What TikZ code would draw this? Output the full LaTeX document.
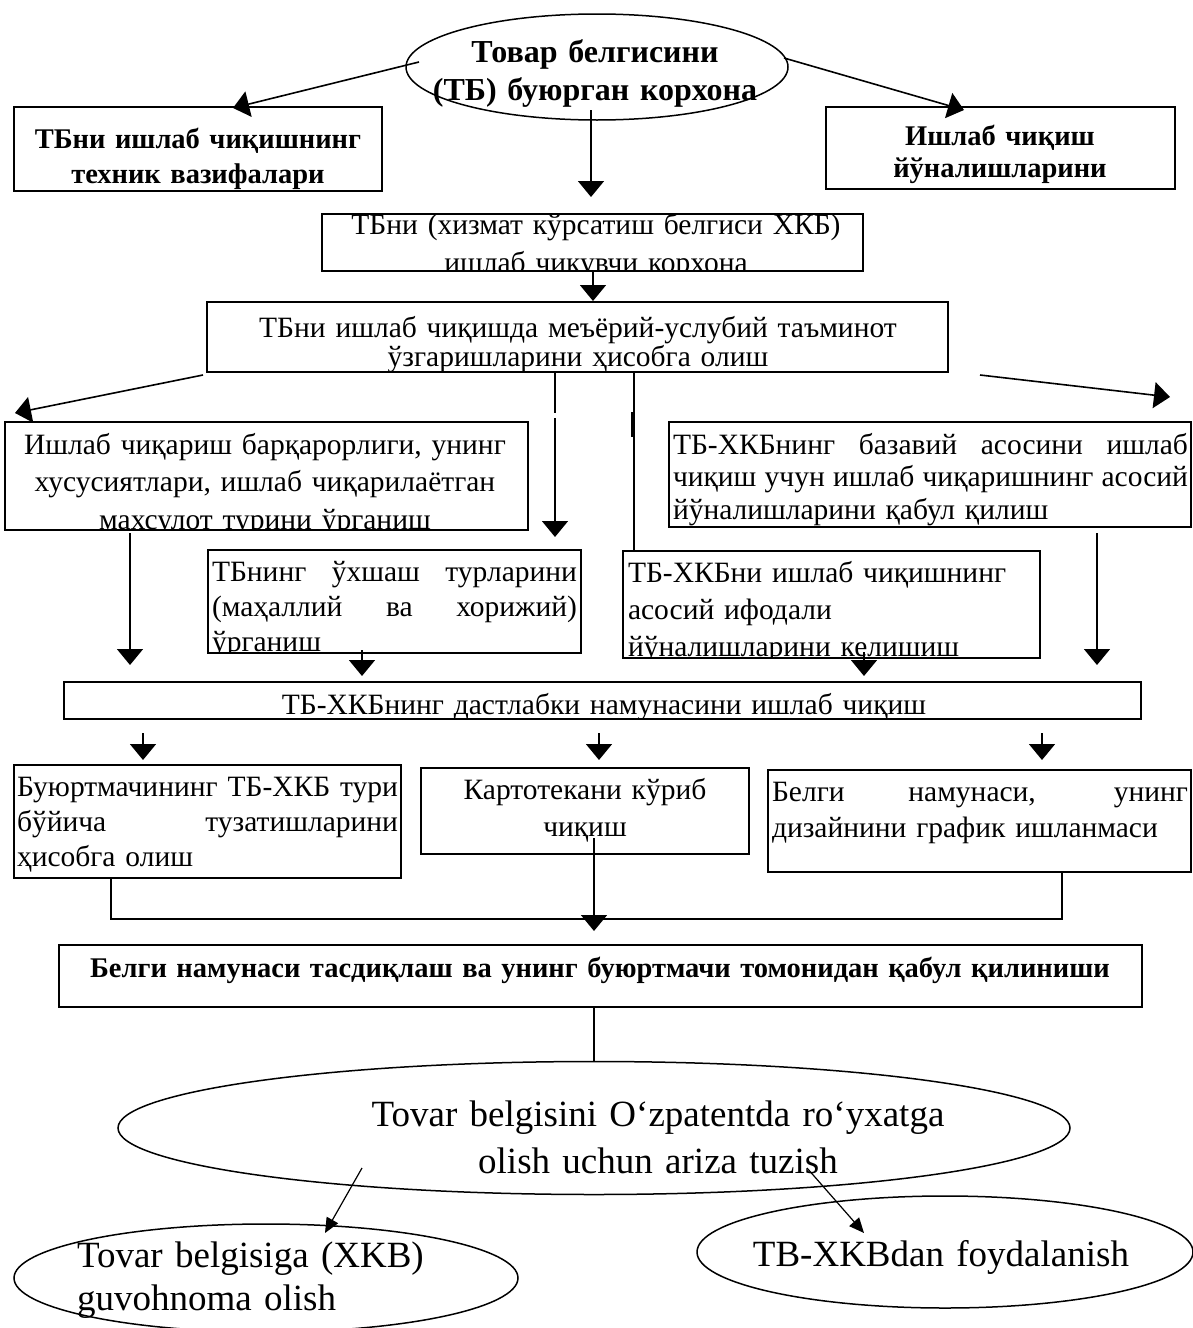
\documentclass[tikz,border=0pt]{standalone}
\usepackage{fontspec}
\setmainfont{Liberation Serif}
\usetikzlibrary{arrows.meta,shapes.geometric}
\newcommand{\jl}[2]{\makebox[#1][s]{\spaceskip=0.25em plus 1fil minus 0.15em\relax #2}}
\tikzset{
  box/.style={draw, line width=1.8pt, inner sep=0pt},
  ell/.style={draw, ellipse, line width=1.5pt, inner sep=0pt},
  rt/.style={inner sep=0pt, anchor=base, font=\fontsize{29.5}{#1}\selectfont},
  bt/.style={inner sep=0pt, anchor=base, font=\fontsize{28.5}{#1}\selectfont\bfseries},
  bte/.style={inner sep=0pt, anchor=base, font=\fontsize{32}{#1}\selectfont\bfseries},
  lt/.style={inner sep=0pt, anchor=base, font=\fontsize{37}{#1}\selectfont},
  arr/.style={line width=1.6pt, -{Triangle[width=26pt,length=16pt]}},
  arrs/.style={line width=1.2pt, -{Triangle[width=13pt,length=15pt]}},
  ln/.style={line width=1.6pt}
}
\begin{document}
\begin{tikzpicture}[x=1pt,y=-1pt]
\fill[white] (0,0) rectangle (1192,1328);
\useasboundingbox (0,0) rectangle (1192,1328);

% ---------- top ellipse and first boxes ----------
\node[ell, minimum width=382pt, minimum height=106pt] (e1) at (597,67) {};
\node[bte=38, text width=420pt, align=center] (te1) at (595,62) {Товар белгисини\\(ТБ) буюрган корхона};

\node[box, minimum width=368pt, minimum height=84pt] (b1) at (198,149) {};
\node[bt=35, text width=366pt, align=center] (t1) at (198,148) {ТБни ишлаб чиқишнинг\\техник вазифалари};

\node[box, minimum width=349pt, minimum height=82pt] (bR) at (1000.5,148) {};
\node[bt=32, text width=345pt, align=center] (tR) at (1000,145) {Ишлаб чиқиш\\йўналишларини};

\node[box, minimum width=541pt, minimum height=57pt] (b2) at (592.5,242.5) {};
\begin{scope}
\clip (b2.south west) rectangle (b2.north east);
\node[rt=38, text width=540pt, align=center] (t2) at (596,234) {ТБни (хизмат кўрсатиш белгиси ХКБ)\\ишлаб чикувчи корхона};
\end{scope}

\node[box, minimum width=741pt, minimum height=70pt] (b3) at (577.5,337) {};
\node[rt=29, text width=740pt, align=center] (t3) at (578,337) {ТБни ишлаб чиқишда меъёрий-услубий таъминот\\ўзгаришларини ҳисобга олиш};

% ---------- second level ----------
\node[box, minimum width=523pt, minimum height=108pt] (b4) at (266.5,476) {};
\begin{scope}
\clip (b4.south west) rectangle (b4.north east);
\node[rt=37.5, text width=520pt, align=center] (t4) at (265,454) {Ишлаб чиқариш барқарорлиги, унинг\\хусусиятлари, ишлаб чиқарилаётган\\махсулот турини ўрганиш};
\end{scope}

\node[box, minimum width=522pt, minimum height=105pt] (b5) at (930,474.5) {};
\node[rt=32.5, text width=515pt, align=left] (t5) at (930.5,454) {\jl{515pt}{ТБ-ХКБнинг базавий асосини ишлаб}\\\jl{515pt}{чиқиш учун ишлаб чиқаришнинг асосий}\\йўналишларини қабул қилиш};

\node[box, minimum width=373pt, minimum height=103pt] (b6) at (394.5,601.5) {};
\begin{scope}
\clip (b6.south west) rectangle (b6.north east);
\node[rt=35, text width=365pt, align=left] (t6) at (394.5,581) {\jl{365pt}{ТБнинг ўхшаш турларини}\\\jl{365pt}{(маҳаллий ва хорижий)}\\ўрганиш};
\end{scope}

\node[box, minimum width=417pt, minimum height=107pt] (b7) at (831.5,604.5) {};
\begin{scope}
\clip (b7.south west) rectangle (b7.north east);
\node[rt=37, text width=410pt, align=left] (t7) at (833,582) {ТБ-ХКБни ишлаб чиқишнинг\\асосий ифодали\\йўналишларини келишиш};
\end{scope}

\node[box, minimum width=1077pt, minimum height=37pt] (b8) at (602.5,700.5) {};
\begin{scope}
\clip (b8.south west) rectangle (b8.north east);
\node[rt=36, text width=1000pt, align=center] (t8) at (604,714) {ТБ-ХКБнинг дастлабки намунасини ишлаб чиқиш};
\end{scope}

% ---------- third level ----------
\node[box, minimum width=387pt, minimum height=113pt] (b9) at (207.5,821.5) {};
\node[rt=35, text width=381pt, align=left] (t9) at (207.5,796) {\jl{381pt}{Буюртмачининг ТБ-ХКБ тури}\\\jl{381pt}{бўйича тузатишларини}\\ҳисобга олиш};

\node[box, minimum width=328pt, minimum height=86pt] (b10) at (585,811) {};
\node[rt=37, text width=320pt, align=center] (t10) at (585,799) {Картотекани кўриб\\чиқиш};

\node[box, minimum width=423pt, minimum height=102pt] (b11) at (979.5,821) {};
\node[rt=36, text width=416pt, align=left] (t11) at (980,801) {\jl{416pt}{Белги намунаси, унинг}\\дизайнини график ишланмаси};

\node[box, minimum width=1083pt, minimum height=62pt] (bb) at (600.5,976) {};
\node[bt=36, text width=1080pt, align=center] (tbb) at (600,977) {Белги намунаси тасдиқлаш ва унинг буюртмачи томонидан қабул қилиниши};

% ---------- bottom ellipses ----------
\node[ell, minimum width=952pt, minimum height=133pt] (e2) at (594,1128) {};
\node[lt=47, text width=800pt, align=center] (te2) at (658,1126) {Tovar belgisini O‘zpatentda ro‘yxatga\\olish uchun ariza tuzish};

\node[ell, minimum width=504pt, minimum height=108pt] (e3) at (266,1278) {};
\node[lt=43, text width=420pt, align=left] (te3) at (287,1267) {Tovar belgisiga (XKB)\\guvohnoma olish};

\node[ell, minimum width=496pt, minimum height=112pt] (e4) at (945,1252) {};
\node[lt=43, text width=480pt, align=center] (te4) at (941,1266) {TB-XKBdan foydalanish};

% ---------- connector end points ----------
\coordinate (c1s) at (419,62);   \coordinate (c1e) at (233,108);
\coordinate (c2s) at (784,58);   \coordinate (c2e) at (964,110);
\coordinate (c3s) at (591,110);  \coordinate (c3e) at (591,197);
\coordinate (c4s) at (593,271);  \coordinate (c4e) at (593,301);
\coordinate (c5s) at (203,375);  \coordinate (c5e) at (15,413);
\coordinate (c6s) at (980,375);  \coordinate (c6e) at (1170,397);
\coordinate (c7s) at (555,373);  \coordinate (c7m) at (555,413);
\coordinate (c7n) at (555,418);  \coordinate (c7e) at (555,537);
\coordinate (c8s) at (634,373);  \coordinate (c8e) at (634,551);
\coordinate (c8a) at (632.5,412); \coordinate (c8b) at (632.5,437);
\coordinate (c9s) at (130,533);  \coordinate (c9e) at (130,665);
\coordinate (c10s) at (1097,533); \coordinate (c10e) at (1097,665);
\coordinate (c11s) at (362,650); \coordinate (c11e) at (362,676);
\coordinate (c12s) at (864,652); \coordinate (c12e) at (864,676);
\coordinate (c13s) at (143,733); \coordinate (c13e) at (143,760);
\coordinate (c14s) at (599,733); \coordinate (c14e) at (599,760);
\coordinate (c15s) at (1042,733); \coordinate (c15e) at (1042,760);
\coordinate (k1) at (111,879);  \coordinate (k2) at (111,919);
\coordinate (k3) at (1062,919); \coordinate (k4) at (1062,873);
\coordinate (c16s) at (594,838); \coordinate (c16e) at (594,931);
\coordinate (c17s) at (594,1007); \coordinate (c17e) at (594,1062);
\coordinate (c18s) at (362,1168); \coordinate (c18e) at (325,1233);
\coordinate (c19s) at (807,1168); \coordinate (c19e) at (864,1233);

% ---------- connectors ----------
\draw[arr] (c1s) -- (c1e);
\draw[arr] (c2s) -- (c2e);
\draw[arr] (c3s) -- (c3e);
\draw[arr] (c4s) -- (c4e);
\draw[arr] (c5s) -- (c5e);
\draw[arr] (c6s) -- (c6e);
\draw[ln] (c7s) -- (c7m);
\draw[arr] (c7n) -- (c7e);
\draw[ln] (c8s) -- (c8e);
\draw[line width=3pt] (c8a) -- (c8b);
\draw[arr] (c9s) -- (c9e);
\draw[arr] (c10s) -- (c10e);
\draw[arr] (c11s) -- (c11e);
\draw[arr] (c12s) -- (c12e);
\draw[arr] (c13s) -- (c13e);
\draw[arr] (c14s) -- (c14e);
\draw[arr] (c15s) -- (c15e);
\draw[ln] (k1) -- (k2) -- (k3) -- (k4);
\draw[arr] (c16s) -- (c16e);
\draw[ln] (c17s) -- (c17e);
\draw[arrs] (c18s) -- (c18e);
\draw[arrs] (c19s) -- (c19e);
\end{tikzpicture}
\end{document}
